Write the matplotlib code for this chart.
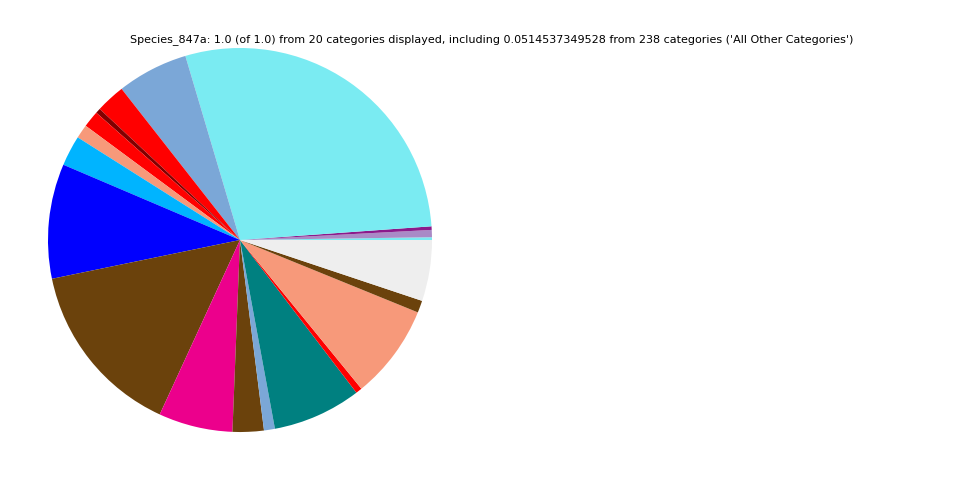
import matplotlib
matplotlib.use("Agg")
import matplotlib.pyplot as plt

categories = [f"Category_{i}" for i in range(19)] + ["All Other Categories"]
values = [0.23, 0.61, 0.3, 28.52, 6.0, 2.47, 0.42, 1.4, 1.17, 2.57,
          9.67, 14.93, 6.25, 2.63, 0.92, 7.47, 0.53, 7.97, 1.02, 5.145]
colors = ["#7aebf2", "#a98ac6", "#8b1a8b", "#7aebf2", "#7ba7d7", "#ff0000",
          "#800000", "#ff0000", "#f7997a", "#00b4ff", "#0000ff", "#6b420c",
          "#ec008c", "#6b420c", "#7ba7d7", "#008080", "#ff0000", "#f7997a",
          "#6b420c", "#eeeeee"]
title = ("Species_847a: 1.0 (of 1.0) from 20 categories displayed, including "
         "0.0514537349528 from 238 categories ('All Other Categories')")

fig = plt.figure(figsize=(9.6, 4.8), dpi=100)
ax = fig.add_axes([240/960 - 192/960, 240/480 - 192/480, 384/960, 384/480])
ax.pie(values, colors=colors, startangle=0, counterclock=True,
       radius=1.0, wedgeprops=dict(linewidth=0))
ax.set_xlim(-1, 1)
ax.set_ylim(-1, 1)
ax.set_aspect("equal")
ax.axis("off")
fig.text(492/960, 1 - 40/480, title, ha="center", va="center", fontsize=8)
fig.savefig("out.png", dpi=100)
